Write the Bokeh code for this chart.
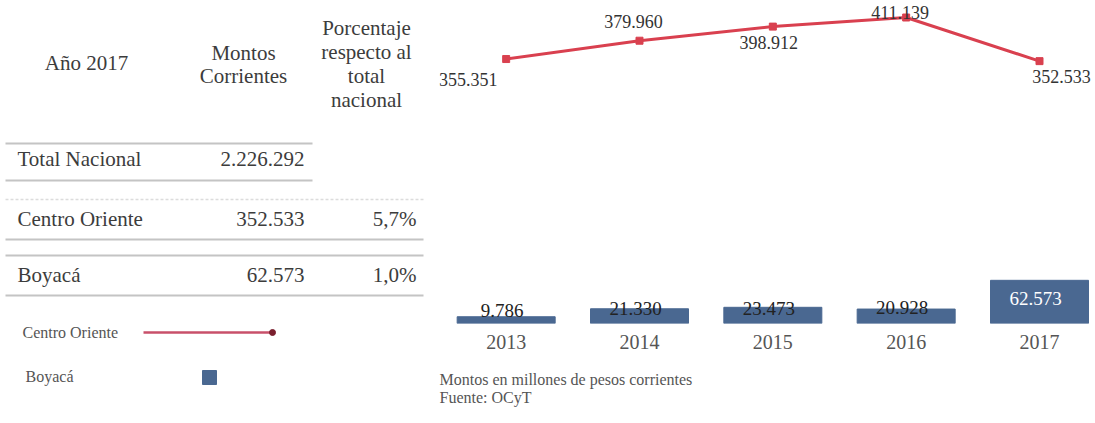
from bokeh.plotting import figure
from bokeh.layouts import row
from bokeh.models import Range1d, FixedTicker, Title, ColumnDataSource
from bokeh.core.properties import value
from bokeh.embed import file_html
from bokeh.resources import INLINE

# ---- data ----
years = [2013, 2014, 2015, 2016, 2017]
centro_oriente = [355351, 379960, 398912, 411139, 352533]
boyaca = [9786, 21330, 23473, 20928, 62573]

table_rows = ["Total Nacional", "Centro Oriente", "Boyacá"]
table_amounts = [2226292, 352533, 62573]
table_shares = ["", "5,7%", "1,0%"]
header_year = ["Año 2017"]
header_amount = ["Montos", "Corrientes"]
header_share = ["Porcentaje", "respecto al", "total", "nacional"]
legend_names = ["Centro Oriente", "Boyacá"]
footnotes = ["Montos en millones de pesos corrientes", "Fuente: OCyT"]


def fmt(v):
    return f"{v:,}".replace(",", ".")


SERIF = value("Liberation Serif")
INK = "#3c3c3c"
RED = "#d9404f"
BLUE = "#4a6891"
TABLE_FS = "21px"

# ---- left panel: summary table and legend (pixel layout, y downwards) ----
left = figure(width=439, height=423, x_range=Range1d(0, 439), y_range=Range1d(423, 0),
              x_axis_location=None, y_axis_location=None, output_backend="svg",
              toolbar_location=None, min_border=0)
left.frame_align = False
left.outline_line_color = None
left.grid.visible = False

left.text(x=[86], y=[62], text=header_year, text_font=SERIF, text_font_size=TABLE_FS,
          text_color=INK, text_align="center", text_baseline="middle")
left.text(x=[243] * 2, y=[52, 75], text=header_amount, text_font=SERIF,
          text_font_size=TABLE_FS, text_color=INK, text_align="center", text_baseline="middle")
left.text(x=[366] * 4, y=[27, 51, 75, 99], text=header_share, text_font=SERIF,
          text_font_size=TABLE_FS, text_color=INK, text_align="center", text_baseline="middle")

row_y = [158, 218, 274]
left.text(x=[17] * 3, y=row_y, text=table_rows, text_font=SERIF, text_font_size=TABLE_FS,
          text_color=INK, text_align="left", text_baseline="middle")
left.text(x=[304] * 3, y=row_y, text=[fmt(v) for v in table_amounts], text_font=SERIF,
          text_font_size=TABLE_FS, text_color=INK, text_align="right", text_baseline="middle")
left.text(x=[416] * 3, y=row_y, text=table_shares, text_font=SERIF, text_font_size=TABLE_FS,
          text_color=INK, text_align="right", text_baseline="middle")

# table rules
left.segment(x0=[5, 5], y0=[143, 180], x1=[312, 312], y1=[143, 180],
             line_color="#c4c4c4", line_width=2)
left.segment(x0=[5], y0=[199], x1=[423], y1=[199], line_color="#dcdcdc",
             line_width=1.5, line_dash="3 2")
left.segment(x0=[5, 5, 5], y0=[239, 255, 295], x1=[423, 423, 423], y1=[239, 255, 295],
             line_color="#c4c4c4", line_width=2)

# legend
left.text(x=[22, 25], y=[332, 376], text=legend_names, text_font=SERIF,
          text_font_size="16px", text_color="#555555", text_align="left",
          text_baseline="middle")
left.segment(x0=[143], y0=[332], x1=[272], y1=[332], line_color="#c8506a", line_width=2.5)
left.scatter(x=[272], y=[332], marker="circle", size=6, color="#7a1f2e")
left.scatter(x=[209], y=[377], marker="square", size=14, color=BLUE)

# ---- right panel: bars and line ----
p = figure(width=656, height=423, x_range=Range1d(2012.5, 2017.42),
           y_range=Range1d(0, 434000), y_axis_location=None, output_backend="svg",
           toolbar_location=None, min_border_left=0, min_border_right=0,
           min_border_top=0, min_border_bottom=100)
p.frame_align = False
p.extra_y_ranges = {"bars": Range1d(0, 468000)}
p.outline_line_color = None
p.grid.visible = False

p.vbar(x=years, top=boyaca, width=0.735, y_range_name="bars", color=BLUE)
p.line(years, centro_oriente, line_width=3, color=RED)
p.scatter(years, centro_oriente, marker="square", size=7, color=RED)

line_src = ColumnDataSource(dict(
    x=years, y=centro_oriente, label=[fmt(v) for v in centro_oriente],
    dx=[-38, -6, -4, -6, 22], dy=[20, -19, 16, -5, 15]))
p.text(x="x", y="y", text="label", x_offset="dx", y_offset="dy", source=line_src,
       text_font=SERIF, text_font_size="18px", text_color="#333333",
       text_align="center", text_baseline="middle")

bar_src = ColumnDataSource(dict(
    x=years, y=boyaca, label=[fmt(v) for v in boyaca],
    dy=[-6, 0, 1, -2, 18],
    color=["#222222", "#222222", "#222222", "#222222", "#ffffff"]))
p.text(x="x", y="y", text="label", x_offset=-4, y_offset="dy", source=bar_src,
       y_range_name="bars", text_font=SERIF, text_font_size="19px",
       text_color="color", text_align="center", text_baseline="middle")

ax = p.xaxis[0]
ax.ticker = FixedTicker(ticks=years)
ax.axis_line_color = None
ax.major_tick_line_color = None
ax.minor_tick_line_color = None
ax.major_tick_out = 0
ax.major_tick_in = 0
ax.major_label_standoff = 11
ax.major_label_text_font = "Liberation Serif"
ax.major_label_text_font_size = "20px"
ax.major_label_text_color = "#555555"

# source notes under the year axis
p.add_layout(Title(text="\n".join(footnotes), align="left", text_font="Liberation Serif",
                   text_font_size="16px", text_font_style="normal",
                   text_line_height=1.1, text_color="#555555", standoff=34), "below")

layout = row(left, p, spacing=0)
open("out.html", "w").write(file_html(layout, INLINE))
